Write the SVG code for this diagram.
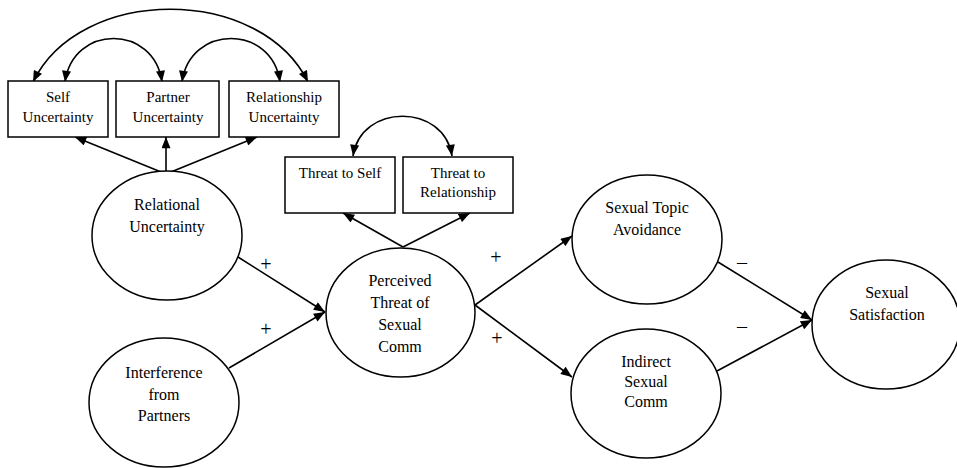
<svg xmlns="http://www.w3.org/2000/svg" width="957" height="468" viewBox="0 0 957 468">
<defs>
<marker id="ah" viewBox="0 0 10 8" refX="10" refY="4" markerWidth="12" markerHeight="9" markerUnits="userSpaceOnUse" orient="auto-start-reverse">
<path d="M0,0 L10,4 L0,8 Z" fill="#000"/>
</marker>
</defs>
<style>
.n { fill: #fff; stroke: #000; stroke-width: 1.5; }
.c path { fill: none; stroke: #000; stroke-width: 1.6; }
text { font-family: "Liberation Serif", "Times New Roman", serif; fill: #000; text-anchor: middle; }
.b { font-size: 15px; }
.e { font-size: 16px; }
.s { font-size: 20px; }
</style>
<rect width="957" height="468" fill="#fff"/>
<g class="c" id="connectors">
<path d="M33,82 C 80,-15 260,-15 308,82" marker-start="url(#ah)" marker-end="url(#ah)"/>
<path d="M65,82 C 73,24 154,24 162,82" marker-start="url(#ah)" marker-end="url(#ah)"/>
<path d="M182,82 C 190,24 272,24 280,82" marker-start="url(#ah)" marker-end="url(#ah)"/>
<path d="M353,156 C 361,103 444,103 452,156" marker-start="url(#ah)" marker-end="url(#ah)"/>
<path d="M166,174 L75,137" marker-end="url(#ah)"/>
<path d="M166,174 L166,137" marker-end="url(#ah)"/>
<path d="M166,174 L257,137" marker-end="url(#ah)"/>
<path d="M403,247 L343,213" marker-end="url(#ah)"/>
<path d="M403,247 L470,213" marker-end="url(#ah)"/>
<path d="M238,257 L325,312" marker-end="url(#ah)"/>
<path d="M229,368 L325,312" marker-end="url(#ah)"/>
<path d="M475,305 L572,236" marker-end="url(#ah)"/>
<path d="M475,305 L572,377" marker-end="url(#ah)"/>
<path d="M718,262 L812,320" marker-end="url(#ah)"/>
<path d="M717,371 L812,320" marker-end="url(#ah)"/>
</g>
<g id="self-uncertainty"><rect class="n" x="8" y="81" width="100" height="56"/><text class="b" x="58" y="102">Self</text><text class="b" x="58" y="122">Uncertainty</text></g>
<g id="partner-uncertainty"><rect class="n" x="116" y="81" width="103" height="56"/><text class="b" x="168" y="102">Partner</text><text class="b" x="168" y="122">Uncertainty</text></g>
<g id="relationship-uncertainty"><rect class="n" x="229" y="81" width="110" height="56"/><text class="b" x="284" y="102">Relationship</text><text class="b" x="284" y="122">Uncertainty</text></g>
<g id="threat-self"><rect class="n" x="285" y="157" width="110" height="56"/><text class="b" x="340" y="178">Threat to Self</text></g>
<g id="threat-relationship"><rect class="n" x="403" y="157" width="110" height="56"/><text class="b" x="458" y="178">Threat to</text><text class="b" x="458" y="197">Relationship</text></g>
<g id="relational-uncertainty"><ellipse class="n" cx="167" cy="235.5" rx="75" ry="64.5"/><text class="e" x="167" y="210">Relational</text><text class="e" x="167" y="232">Uncertainty</text></g>
<g id="interference"><ellipse class="n" cx="164" cy="402.5" rx="75" ry="64.5"/><text class="e" x="164" y="378">Interference</text><text class="e" x="164" y="400">from</text><text class="e" x="164" y="421">Partners</text></g>
<g id="perceived-threat"><ellipse class="n" cx="400.5" cy="312.5" rx="74.5" ry="64.5"/><text class="e" x="400" y="286">Perceived</text><text class="e" x="400" y="308">Threat of</text><text class="e" x="400" y="330">Sexual</text><text class="e" x="400" y="352">Comm</text></g>
<g id="sexual-topic-avoidance"><ellipse class="n" cx="647" cy="239.5" rx="75" ry="64.5"/><text class="e" x="647" y="213">Sexual Topic</text><text class="e" x="647" y="235">Avoidance</text></g>
<g id="indirect-sexual-comm"><ellipse class="n" cx="646" cy="393.5" rx="75" ry="64.5"/><text class="e" x="646" y="367">Indirect</text><text class="e" x="646" y="387">Sexual</text><text class="e" x="646" y="407">Comm</text></g>
<g id="sexual-satisfaction"><ellipse class="n" cx="886" cy="324.5" rx="74" ry="64.5"/><text class="e" x="887" y="298">Sexual</text><text class="e" x="887" y="320">Satisfaction</text></g>
<g id="labels">
<text class="s" x="266" y="271">+</text>
<text class="s" x="266" y="336">+</text>
<text class="s" x="496" y="264">+</text>
<text class="s" x="497" y="345">+</text>
<text class="s" x="742" y="269">–</text>
<text class="s" x="742" y="333">–</text>
</g>
</svg>
